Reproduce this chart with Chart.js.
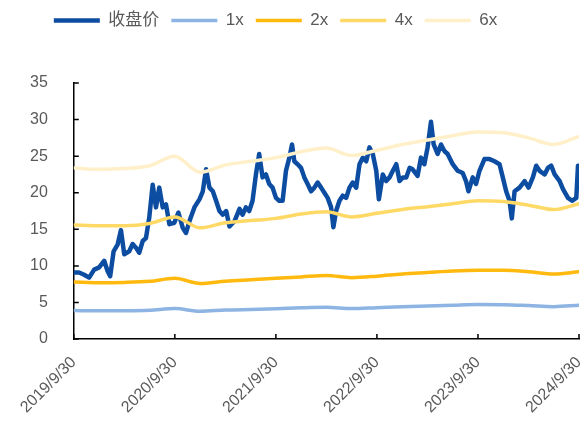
<!DOCTYPE html>
<html>
<head>
<meta charset="utf-8">
<script src="https://cdn.jsdelivr.net/npm/chart.js@4.4.1/dist/chart.umd.min.js"></script>
<style>
  html, body { margin: 0; padding: 0; background: #fff; }
  #wrap { width: 587px; height: 423px; }
</style>
</head>
<body>
<div id="wrap"><canvas id="mycanvas"></canvas></div>
<script>
// x in months since 2019/9/30
var dateLabels = ['2019/9/30', '2020/9/30', '2021/9/30', '2022/9/30', '2023/9/30', '2024/9/30'];

var closeMonths = [0, 0.63, 1.23, 1.82, 2.42, 3.01, 3.61, 4.01, 4.32, 4.73, 5.2, 5.6, 5.99, 6.58, 6.99, 7.38,
  7.77, 8.18, 8.57, 8.96, 9.37, 9.76, 10.15, 10.56, 10.95, 11.35, 11.94, 12.42, 12.94, 13.33, 13.73, 14.32,
  14.92, 15.32, 15.71, 16.11, 16.51, 16.9, 17.3, 17.7, 18.1, 18.49, 19.08, 19.68,
  20.04, 20.44, 20.83, 21.23, 21.63, 22.02, 22.42, 22.82, 23.21, 23.61, 24.01, 24.4, 24.8, 25.2, 25.6,
  25.92, 26.19, 26.58, 26.99, 27.38, 27.77, 28.18, 28.57, 28.96, 29.37, 29.76, 30.15, 30.56, 30.83,
  31.15, 31.55, 31.94, 32.35, 32.74, 33.13, 33.54, 33.93, 34.32, 34.73, 35.12, 35.51, 35.92, 36.23,
  36.7, 37.1, 37.5, 37.89, 38.3, 38.69, 39.08, 39.49, 39.88,
  40.24, 40.83, 41.23, 41.63, 42.02, 42.42, 42.74, 43.21, 43.61, 44.01, 44.4, 45, 45.6, 46.19, 46.58,
  46.87, 47.38, 47.77, 48.18, 48.77, 49.37, 49.96, 50.56, 50.95, 51.35, 51.75, 52.02, 52.35, 52.94,
  53.54, 54.01, 54.52, 54.92, 55.32, 55.92, 56.31, 56.7, 57.11, 57.7, 58.1, 58.69, 59.17, 59.68,
  59.88, 60];
var closeValues = [9.1, 9.1, 8.8, 8.4, 9.5, 9.8, 10.7, 9.3, 8.6, 12.0, 12.9, 14.9, 11.6, 12.0, 13.0, 12.5,
  11.8, 13.4, 13.8, 16.6, 21.1, 18.0, 20.7, 18.0, 18.4, 15.7, 15.9, 17.3, 15.2, 14.5, 16.1, 18.0,
  19.1, 20.2, 23.2, 20.7, 20.2, 18.9, 17.5, 17.0, 17.5, 15.4, 16.1, 17.8,
  17.0, 18.0, 17.5, 18.9, 22.5, 25.3, 22.1, 22.5, 21.2, 20.7, 19.3, 18.9, 18.9, 23.0, 24.8,
  26.6, 24.3, 23.9, 23.4, 22.1, 21.2, 20.2, 20.7, 21.4, 20.7, 20.0, 19.3, 18.0, 15.3,
  17.5, 18.9, 19.6, 19.3, 20.7, 21.4, 20.7, 23.9, 24.8, 24.3, 26.2, 25.3, 23.0, 19.1,
  22.5, 21.6, 22.1, 23.0, 23.9, 21.6, 22.1, 22.1, 23.4,
  23.2, 22.3, 24.8, 23.9, 26.2, 29.7, 26.6, 25.3, 26.6, 25.7, 25.3, 23.9, 23.0, 22.7, 21.6,
  20.2, 22.1, 21.2, 23.0, 24.6, 24.6, 24.3, 23.9, 22.1, 20.2, 18.9, 16.5, 20.2, 20.7,
  21.6, 20.7, 22.1, 23.7, 23.0, 22.5, 23.4, 23.7, 22.5, 21.6, 20.5, 19.3, 18.9, 19.3,
  23.7, 23.7];

var bandMonths = [0, 3, 6, 9, 12, 15, 18, 21, 24, 27, 30, 33, 36, 39, 42, 45, 48, 51, 54, 57, 60];
var pe1x = [3.9, 3.87, 3.88, 3.95, 4.17, 3.8, 3.97, 4.05, 4.13, 4.27, 4.35, 4.18, 4.3, 4.43, 4.53, 4.63, 4.72, 4.7, 4.58, 4.43, 4.62];
var pe2x = [7.8, 7.7, 7.75, 7.9, 8.3, 7.6, 7.9, 8.1, 8.3, 8.5, 8.7, 8.4, 8.6, 8.9, 9.1, 9.3, 9.4, 9.4, 9.2, 8.9, 9.2];
var pe4x = [15.6, 15.5, 15.5, 15.8, 16.7, 15.2, 15.9, 16.2, 16.5, 17.1, 17.4, 16.7, 17.2, 17.7, 18.1, 18.5, 18.9, 18.8, 18.3, 17.7, 18.5];
var pe6x = [23.4, 23.2, 23.3, 23.7, 25.0, 22.8, 23.8, 24.3, 24.8, 25.6, 26.1, 25.1, 25.8, 26.6, 27.2, 27.8, 28.3, 28.2, 27.5, 26.6, 27.7];

function pts(xs, ys) {
    return xs.map(function (x, i) { return { x: x, y: ys[i] }; });
}

function band(label, color, values) {
    return {
        label: label,
        data: pts(bandMonths, values),
        borderColor: color,
        backgroundColor: color,
        borderWidth: 3.5,
        borderCapStyle: 'round',
        pointRadius: 0,
        pointStyle: 'line',
        cubicInterpolationMode: 'monotone',
        order: 0
    };
}

// small tick marks drawn inside the plot, like the original
var innerTicks = {
    id: 'innerTicks',
    afterDraw: function (chart) {
        var ctx = chart.ctx, area = chart.chartArea, xs = chart.scales.x, ys = chart.scales.y;
        ctx.save();
        ctx.strokeStyle = '#000';
        ctx.lineWidth = 1.5;
        ctx.beginPath();
        ys.ticks.forEach(function (t) {
            var py = ys.getPixelForValue(t.value);
            ctx.moveTo(area.left, py);
            ctx.lineTo(area.left + 5, py);
        });
        xs.ticks.forEach(function (t) {
            var px = xs.getPixelForValue(t.value);
            ctx.moveTo(px, area.bottom);
            ctx.lineTo(px, area.bottom - 5);
        });
        ctx.stroke();
        ctx.restore();
    }
};

// extra room under the legend, and nudge it a bit to the left
var legendSpace = {
    id: 'legendSpace',
    beforeInit: function (chart) {
        var fit = chart.legend.fit;
        chart.legend.fit = function () {
            fit.bind(chart.legend)();
            this.height += 44;
        };
    },
    afterLayout: function (chart) {
        chart.legend.left -= 20;
        chart.legend.right -= 20;
    }
};

var FONT = "'Liberation Sans', Arial, 'Noto Sans CJK SC', sans-serif";

var chardata = {
    datasets: [
        {
            label: '收盘价',
            data: pts(closeMonths, closeValues),
            borderColor: '#0C4DA2',
            backgroundColor: '#0C4DA2',
            borderWidth: 4.5,
            borderCapStyle: 'round',
            borderJoinStyle: 'round',
            pointRadius: 0,
            pointStyle: 'line',
            tension: 0,
            order: 1
        },
        band('1x', '#8DB4E2', pe1x),
        band('2x', '#FFB90F', pe2x),
        band('4x', '#FFD966', pe4x),
        band('6x', '#FFF0C9', pe6x)
    ]
};

var graph = new Chart(document.getElementById('mycanvas'), {
    type: 'line',
    data: chardata,
    plugins: [innerTicks, legendSpace],
    options: {
        responsive: true,
        maintainAspectRatio: false,
        animation: false,
        layout: { padding: { top: 0, right: 8, left: 12, bottom: 0 } },
        plugins: {
            tooltip: { enabled: false },
            legend: {
                position: 'top',
                labels: {
                    usePointStyle: true,
                    pointStyleWidth: 46,
                    boxHeight: 16,
                    padding: 12,
                    color: '#595959',
                    font: { family: FONT, size: 17 },
                    sort: function (a, b) { return a.datasetIndex - b.datasetIndex; }
                }
            }
        },
        scales: {
            x: {
                type: 'linear',
                min: 0,
                max: 60,
                grid: { display: false },
                border: { display: true, color: '#000', width: 1.5 },
                afterFit: function (scale) { scale.paddingRight = 0; },
                ticks: {
                    stepSize: 12,
                    autoSkip: false,
                    minRotation: 45,
                    maxRotation: 45,
                    padding: 6,
                    color: '#595959',
                    font: { family: FONT, size: 16 },
                    callback: function (v) { return dateLabels[Math.round(v / 12)]; }
                }
            },
            y: {
                min: 0,
                max: 35,
                grid: { display: false },
                border: { display: true, color: '#000', width: 1.5 },
                ticks: {
                    stepSize: 5,
                    padding: 18,
                    color: '#595959',
                    font: { family: FONT, size: 16 }
                }
            }
        }
    }
});
</script>
</body>
</html>
